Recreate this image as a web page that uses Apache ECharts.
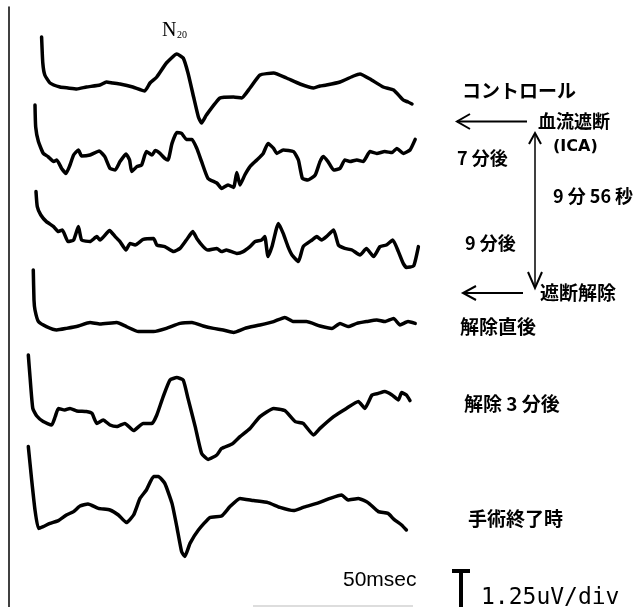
<!DOCTYPE html>
<html>
<head>
<meta charset="utf-8">
<script src="https://cdn.jsdelivr.net/npm/echarts@6/dist/echarts.min.js"></script>
<style>
  html, body { margin: 0; background: #fff; }
  #chart { width: 641px; height: 607px; }
</style>
</head>
<body>
<div id="chart"></div>
<script>
// SEP traces, [time ms, amplitude uV]
const traceNames = ['コントロール', '7分後', '9分後', '解除直後', '解除3分後', '手術終了時']
// baseline of each trace on the stacked amplitude axis (uV)
const baselines = [26, 22.4, 18.2, 14, 9.6, 4.85]

const control = [
  [2.7, 2.5], [2.85, 1.2], [3.1, 0.6], [3.75, 0.2], [5, 0], [6, -0.05], [7.1, -0.1], [8.3, 0],
  [10, 0.1], [10.8, 0.25], [11.6, 0.2], [12.5, 0.15], [14.1, 0], [15.6, -0.2], [16.25, 0.2],
  [17.1, 0.5], [18.3, 1.2], [19.6, 1.65], [20.4, 1.45], [21, 0.7], [21.7, -0.5], [22.3, -1.5],
  [22.7, -1.8], [23.3, -1.4], [25, -0.55], [26.7, -0.5], [27.7, -0.55], [28.75, -0.05],
  [30, 0.6], [31.7, 0.7], [33.3, 0.45], [35, 0.15], [36.7, -0.05], [37.5, 0.05], [38.3, 0.1],
  [40, 0.25], [41.7, 0.55], [42.5, 0.65], [43.75, 0.4], [45.4, 0], [46.7, -0.15], [47.9, -0.65],
  [48.5, -0.75], [49, -0.85]
]
const min7 = [
  [1.875, 2.7], [1.96, 1.6], [2.3, 0.87], [2.9, 0.29], [3.5, 0.12], [4.2, -0.13], [4.6, -0.05],
  [5.2, -0.47], [5.75, -0.72], [6.25, -0.3], [6.7, 0.2], [7.3, 0.45], [7.7, 0.15], [8.75, 0.2],
  [9.9, 0.4], [10.6, 0.12], [11.25, -0.47], [11.9, -0.55], [12.5, -0.13], [13.25, 0.25],
  [13.7, -0.05], [13.96, -0.63], [14.6, -0.38], [15.2, -0.3], [15.8, 0.37], [16.5, 0.2],
  [16.9, 0.42], [17.5, 0.28], [18.1, 0.03], [18.5, -0.05], [19, 0.78], [19.6, 1.33], [20.2, 1.28],
  [20.8, 0.98], [21.5, 0.98], [22.1, 0.53], [22.7, -0.13], [23.5, -0.97], [24.6, -1.2],
  [25.2, -1.47], [26, -1.3], [26.7, -1.42], [27.1, -0.68], [27.5, -1.3], [28.1, -0.8],
  [28.75, -0.38], [29.6, -0.05], [30.4, 0.28], [31, 0.78], [31.7, 0.53], [32.1, 0.28],
  [32.9, 0.45], [34.2, 0.37], [34.8, -0.05], [35.3, -0.97], [36, -1.05], [36.9, -0.8],
  [37.5, -0.13], [37.9, 0.12], [38.5, -0.13], [39.2, -0.55], [40, -0.47], [40.6, -0.05],
  [41.25, -0.13], [42.1, -0.05], [42.9, -0.13], [43.75, 0.37], [44.6, 0.28], [45.6, 0.37],
  [46.5, 0.32], [47.1, 0.53], [47.9, 0.28], [48.75, 0.45], [49.4, 0.98]
]
const min9 = [
  [2, 2.57], [2.16, 1.82], [2.6, 1.4], [3.3, 1.07], [4.2, 0.82], [4.8, 0.57], [5.3, 0.65],
  [6, 0.07], [6.7, 0.15], [7.3, 0.82], [7.7, 0.15], [8.75, 0.07], [9.6, 0.32], [10, 0.15],
  [11.2, 0.62], [11.9, 0.32], [12.5, 0.07], [13.25, -0.35], [13.75, -0.02], [14.4, -0.1],
  [15.4, 0.18], [16.7, 0.23], [17.1, -0.1], [18.1, -0.18], [19.2, -0.43], [20, -0.27],
  [20.8, 0.15], [21.6, 0.57], [22.1, 0.23], [22.9, -0.18], [23.5, -0.35], [24.6, -0.27],
  [25.2, -0.43], [25.8, -0.35], [27.1, -0.52], [27.9, -0.43], [28.75, -0.18], [29.4, 0.07],
  [30.2, 0.15], [30.6, 0.32], [31, -0.68], [31.5, -0.18], [32.3, 0.98], [32.9, 0.48],
  [33.5, -0.18], [34, -0.6], [34.8, -0.93], [35.4, -0.18], [36.5, 0.15], [37.1, 0.32],
  [37.7, 0.15], [38.3, 0.32], [39.2, 0.65], [39.8, -0.1], [40.6, -0.27], [41.5, -0.35],
  [42.5, -0.6], [43.3, -0.27], [44.2, -0.68], [45, -0.18], [45.8, -0.1], [46.6, 0.15],
  [47.3, -0.43], [47.9, -1.02], [48.3, -1.22], [49.2, -1.15], [49.8, -0.18]
]
const released = [
  [1.66, 2.85], [1.75, 1.35], [1.875, 0.85], [2.3, 0.27], [3.3, 0.02], [4.6, -0.15], [5.8, -0.07],
  [7.3, 0.05], [8.75, 0.22], [10, 0.15], [12.1, 0.22], [13.3, 0.02], [14.8, -0.23], [16.7, -0.23],
  [18.3, -0.07], [20, 0.18], [21.5, 0.23], [22.9, 0.05], [24.2, -0.07], [25.4, -0.15],
  [26.7, -0.27], [28.1, -0.07], [30, 0.1], [31.7, 0.27], [33.1, 0.48], [34.2, 0.27], [35.8, 0.27],
  [37.5, 0.05], [39, -0.07], [40, 0.18], [41, 0.02], [42.1, 0.18], [43.3, 0.27], [44.6, 0.35],
  [45.6, 0.27], [46.7, 0.43], [47.5, 0.1], [48.5, 0.27], [49.4, 0.18]
]
const released3 = [
  [1.04, 3], [1.25, 1.92], [1.6, 0.33], [2.1, -0.05], [2.9, -0.33], [3.96, -0.5], [4.4, -0.08],
  [4.8, 0.33], [5.6, 0.25], [6.25, 0.33], [7.1, 0.2], [8.3, 0.17], [9, 0.08], [9.6, -0.42],
  [10.4, -0.25], [11.25, -0.5], [12.1, -0.58], [13.1, -0.42], [14.2, -0.78], [15.4, -0.42],
  [16.5, -0.42], [17.1, 0], [17.9, 0.92], [18.75, 1.75], [19.6, 1.87], [20.4, 1.75], [21, 0.83],
  [21.9, -0.58], [22.7, -1.92], [23.5, -2.22], [24.6, -2], [25.2, -1.67], [26.5, -1.45],
  [27.5, -1.08], [28.75, -0.67], [30, -0.08], [31.7, 0.33], [33.1, 0.22], [34.4, -0.33],
  [35.4, -0.42], [36.7, -1], [37.5, -0.67], [39.2, -0.08], [40.8, 0.33], [42.3, 0.67],
  [43.1, 0.33], [44, 1], [44.8, 1.08], [45.6, 1.17], [46.5, 1], [47.3, 0.75], [47.7, 1.12],
  [48.3, 1], [48.75, 0.72]
]
const endOfSurgery = [
  [1.04, 3.17], [1.46, 1.5], [1.875, 0], [2.3, -0.92], [2.9, -0.83], [3.75, -0.67], [4.8, -0.53],
  [5.8, -0.25], [6.7, -0.08], [7.5, 0.2], [8.5, 0.3], [9.8, 0.08], [11.25, 0], [12.3, -0.25],
  [13.3, -0.63], [14.2, -0.25], [15, 0.58], [15.8, 1], [16.7, 1.67], [17.3, 1.67], [18.1, 1.33],
  [19, 0.33], [19.6, -0.83], [20.2, -2.08], [20.6, -2.33], [21.25, -1.67], [22.3, -1],
  [23.75, -0.37], [25.2, -0.3], [26.25, 0.17], [27.5, 0.58], [29.2, 0.47], [31, 0.37],
  [32.5, 0.13], [34.2, -0.03], [35.4, 0.13], [37.1, 0.33], [38.75, 0.58], [40.2, 0.75],
  [41, 0.5], [42.3, 0.58], [43.5, 0.37], [44.8, -0.08], [46, -0.17], [46.75, -0.47],
  [47.7, -0.75], [48.3, -1]
]
const traces = [control, min7, min9, released, released3, endOfSurgery]

const jp = '"Noto Sans CJK JP", sans-serif'

const label = (text, x, y, size, extra) => ({
  type: 'text',
  style: Object.assign({
    text, x, y,
    font: 'bold ' + size + 'px ' + jp,
    fill: '#000',
    textVerticalAlign: 'middle'
  }, extra || {})
})
const stroke = { stroke: '#000', lineWidth: 2, fill: null }

const chart = echarts.init(document.getElementById('chart'))

chart.setOption({
  animation: false,
  grid: { left: 20, right: 221, top: 7, bottom: 0 },
  xAxis: {
    type: 'value', min: 0, max: 50,
    axisLine: { show: false }, axisTick: { show: false },
    axisLabel: { show: false }, splitLine: { show: false }
  },
  yAxis: {
    type: 'value', min: 0, max: 30, offset: 11,
    axisLine: { show: true, onZero: false, lineStyle: { color: '#000', width: 1.5 } },
    axisTick: { show: false }, axisLabel: { show: false }, splitLine: { show: false }
  },
  series: traces.map((tr, i) => ({
    name: traceNames[i],
    type: 'line',
    data: tr.map(([t, a]) => [t, baselines[i] + a]),
    showSymbol: false,
    clip: false,
    smooth: 0.15,
    lineStyle: { color: '#000', width: 3.5, join: 'round', cap: 'round' }
  })),
  graphic: [
    // N20
    { type: 'text', style: { text: 'N', x: 162, y: 31, font: '20px "Liberation Serif", serif', fill: '#000', textVerticalAlign: 'middle' } },
    { type: 'text', style: { text: '20', x: 177, y: 35, font: '10px "Liberation Serif", serif', fill: '#000', textVerticalAlign: 'middle' } },

    label('コントロール', 462, 91, 19),
    label('血流遮断', 538, 121, 18),
    label('(ICA)', 553, 147, 16, { font: 'bold 16px "DejaVu Sans", sans-serif' }),
    label('7 分後', 457, 158, 18),
    label('9 分 56 秒', 553, 196, 18),
    label('9 分後', 465, 243, 18),
    label('遮断解除', 540, 293, 19),
    label('解除直後', 460, 327, 19),
    label('解除 3 分後', 464, 404, 19),
    label('手術終了時', 468, 519, 19),

    // arrows
    { type: 'polyline', shape: { points: [[457, 121.5], [527, 121.5]] }, style: stroke },
    { type: 'polyline', shape: { points: [[470, 114], [457, 121.5], [470, 129]] }, style: stroke },
    { type: 'polyline', shape: { points: [[463, 293], [523, 293]] }, style: stroke },
    { type: 'polyline', shape: { points: [[476, 286], [463, 293], [476, 300]] }, style: stroke },
    { type: 'polyline', shape: { points: [[535, 133], [535, 288]] }, style: { stroke: '#000', lineWidth: 1.5, fill: null } },
    { type: 'polyline', shape: { points: [[529, 144], [535, 133], [541, 144]] }, style: stroke },
    { type: 'polyline', shape: { points: [[528, 272], [535, 288], [542, 272]] }, style: stroke },

    // scale
    { type: 'text', style: { text: '50msec', x: 343, y: 580, font: '21px "Liberation Sans", sans-serif', fill: '#000', textVerticalAlign: 'middle' } },
    { type: 'rect', shape: { x: 452, y: 569, width: 18, height: 4 }, style: { fill: '#000' } },
    { type: 'rect', shape: { x: 459, y: 569, width: 4, height: 38 }, style: { fill: '#000' } },
    { type: 'text', style: { text: '1.25uV/div', x: 481, y: 598, font: '23px "DejaVu Sans Mono", monospace', fill: '#000', textVerticalAlign: 'middle' } },
    { type: 'polyline', shape: { points: [[253, 606], [413, 606]] }, style: { stroke: '#bbb', lineWidth: 1 } }
  ]
})
</script>
</body>
</html>
